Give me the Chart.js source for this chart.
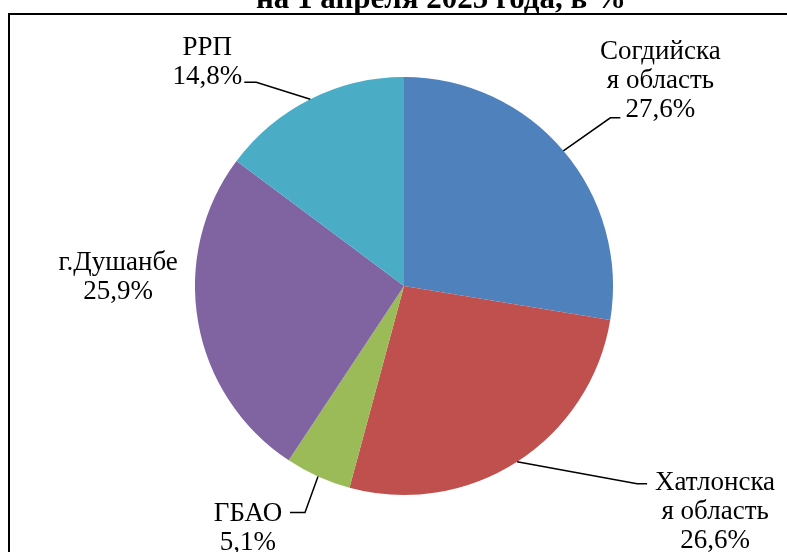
<!DOCTYPE html>
<html>
<head>
<meta charset="utf-8">
<script src="https://cdn.jsdelivr.net/npm/chart.js@4/dist/chart.umd.min.js"></script>
<style>
body { margin: 0; background: #fff; }
#wrap { width: 787px; height: 552px; }
</style>
</head>
<body>
<div id="wrap"><canvas id="pie" width="787" height="552"></canvas></div>
<script>
// данные
const titleText = "на 1 апреля 2025 года, в %"
const categories = ["Согдийская область", "Хатлонская область", "ГБАО", "г.Душанбе", "РРП"]
const nameLines = [["Согдийска", "я область"], ["Хатлонска", "я область"], ["ГБАО"], ["г.Душанбе"], ["РРП"]]
const values = [27.6, 26.6, 5.1, 25.9, 14.8]
const colors = ["#4F81BD", "#C0504D", "#9BBB59", "#8064A2", "#4BACC6"]

// где стоят подписи (смещение от края сектора) и выноски
const labelPos = [
  { dx: 97, dy: -70, leader: [[47, -33], [57, -33]] },
  { dx: 198, dy: 50, leader: [[120, 22], [130, 22]] },
  { dx: -70, dy: 52, leader: [[-13, 36], [-28, 36]] },
  { dx: -80, dy: -45, leader: null },
  { dx: -103, dy: -37, leader: [[-54, -17], [-66, -17]] }
]
const lineH = 29

const frame = {
  id: "frame",
  beforeDraw(chart) {
    const ctx = chart.ctx
    ctx.save()
    ctx.fillStyle = "#fff"
    ctx.fillRect(0, 0, chart.width, chart.height)
    ctx.strokeStyle = "#000"
    ctx.lineWidth = 2
    ctx.beginPath()
    ctx.moveTo(9, chart.height)
    ctx.lineTo(9, 14)
    ctx.lineTo(chart.width, 14)
    ctx.stroke()
    ctx.fillStyle = "#000"
    ctx.font = "bold 31px 'Liberation Serif'"
    ctx.textAlign = "center"
    ctx.textBaseline = "alphabetic"
    ctx.fillText(titleText, 441, 8)
    ctx.restore()
  }
}

const dataLabels = {
  id: "dataLabels",
  afterDatasetsDraw(chart) {
    const ctx = chart.ctx
    const meta = chart.getDatasetMeta(0)
    ctx.save()
    ctx.font = "27px 'Liberation Serif'"
    ctx.fillStyle = "#000"
    ctx.strokeStyle = "#000"
    ctx.lineWidth = 1.5
    ctx.textAlign = "center"
    ctx.textBaseline = "middle"
    meta.data.forEach((arc, i) => {
      const p = arc.getProps(["x", "y", "startAngle", "endAngle", "outerRadius"], true)
      const mid = (p.startAngle + p.endAngle) / 2
      const ex = p.x + Math.cos(mid) * p.outerRadius
      const ey = p.y + Math.sin(mid) * p.outerRadius
      const pos = labelPos[i]
      if (pos.leader) {
        ctx.beginPath()
        ctx.moveTo(ex, ey)
        pos.leader.forEach(pt => ctx.lineTo(ex + pt[0], ey + pt[1]))
        ctx.stroke()
      }
      const lines = nameLines[i].concat([values[i].toFixed(1).replace(".", ",") + "%"])
      const top = ey + pos.dy - (lines.length - 1) * lineH / 2
      lines.forEach((t, k) => ctx.fillText(t, ex + pos.dx, top + k * lineH))
    })
    ctx.restore()
  }
}

new Chart(document.getElementById("pie"), {
  type: "pie",
  data: {
    labels: categories,
    datasets: [{
      data: values,
      backgroundColor: colors,
      borderWidth: 0
    }]
  },
  options: {
    responsive: false,
    animation: false,
    layout: { padding: { top: 77, bottom: 57, left: 100, right: 79 } },
    plugins: {
      legend: { display: false },
      tooltip: { enabled: false },
      title: { display: false }
    }
  },
  plugins: [frame, dataLabels]
})
</script>
</body>
</html>
